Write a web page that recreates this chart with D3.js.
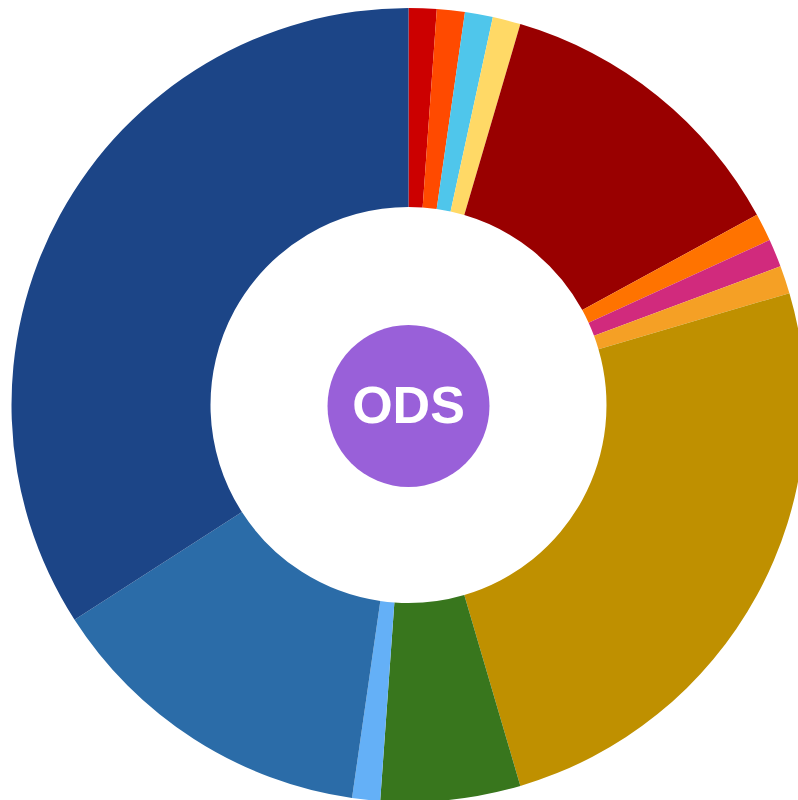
<style>
  body {
    margin: 0;
    background-color: #ffffff;
    overflow: hidden;
  }

  svg {
    display: block;
  }

  path.slice {
    stroke: none;
  }

  text.badge {
    font-family: "Liberation Sans", Arial, sans-serif;
    font-weight: bold;
    fill: white;
  }
</style>

<svg width="798" height="800" viewBox="0 0 798 800"></svg>

<script src="https://cdnjs.cloudflare.com/ajax/libs/d3/7.8.5/d3.min.js"></script>
<script>
// slices, clockwise from 12 o'clock
const categories = ["S1", "S2", "S3", "S4", "S5", "S6", "S7", "S8", "S9", "S10", "S11", "S12", "S13"]
const values = [1, 1, 1, 1, 11, 1, 1, 1, 22, 5, 1, 12, 30]
const colors = [
  "#cc0000", "#ff4a00", "#4fc6eb", "#ffd966", "#990000", "#ff7300", "#d12a7d",
  "#f5a025", "#bf9000", "#38761d", "#64b0f7", "#2b6ca8", "#1c4587"
]
const centerLabel = "ODS"

const svg = d3.select("svg")

// centre of the ring sits a bit off the page centre, the ring runs past the right and bottom edge
const cx = 408.5
const cy = 405
const outerRadius = 397
const innerRadius = 198

const data = categories.map((c, i) => ({ name: c, value: values[i], color: colors[i] }))

const pie = d3.pie()
  .value(d => d.value)
  .sort(null)

const arc = d3.arc()
  .innerRadius(innerRadius)
  .outerRadius(outerRadius)

const g = svg.append("g")
  .attr("transform", `translate(${cx},${cy})`)

g.selectAll("path")
  .data(pie(data))
  .enter()
  .append("path")
  .attr("class", "slice")
  .attr("d", arc)
  .attr("fill", d => d.data.color)

// purple badge in the hole
g.append("circle")
  .attr("cx", 0)
  .attr("cy", 1)
  .attr("r", 81)
  .attr("fill", "#9960d9")

g.append("text")
  .attr("class", "badge")
  .attr("x", 0)
  .attr("y", 0)
  .attr("dy", "0.35em")
  .attr("text-anchor", "middle")
  .attr("font-size", 52)
  .text(centerLabel)
</script>
